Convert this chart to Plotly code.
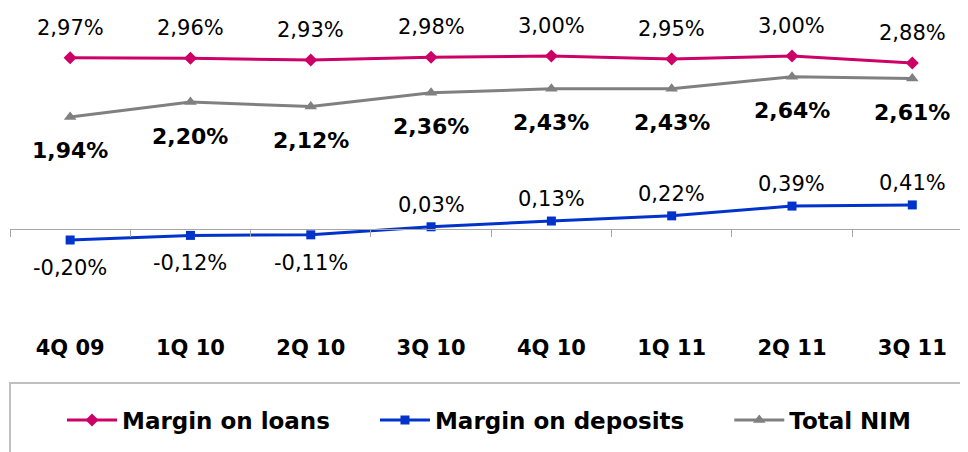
import plotly.graph_objects as go

quarters = ["4Q 09", "1Q 10", "2Q 10", "3Q 10", "4Q 10", "1Q 11", "2Q 11", "3Q 11"]
margin_loans = [2.97, 2.96, 2.93, 2.98, 3.00, 2.95, 3.00, 2.88]
margin_deposits = [-0.20, -0.12, -0.11, 0.03, 0.13, 0.22, 0.39, 0.41]
total_nim = [1.94, 2.20, 2.12, 2.36, 2.43, 2.43, 2.64, 2.61]
series_names = ["Margin on loans", "Margin on deposits", "Total NIM"]

C_LOANS = "#cc0066"
C_DEP = "#0033cc"
C_NIM = "#808080"
PAD = "\u00a0" * 5  # spacing between legend entries

def fmt(v):
    return f"{v:.2f}%".replace(".", ",")

fig = go.Figure()
fig.add_trace(go.Scatter(x=quarters, y=margin_loans, name=series_names[0] + PAD, mode="lines+markers",
                         line=dict(color=C_LOANS, width=3), marker=dict(symbol="diamond", size=10, color=C_LOANS),
                         hoverinfo="skip"))
fig.add_trace(go.Scatter(x=quarters, y=margin_deposits, name=series_names[1] + PAD, mode="lines+markers",
                         line=dict(color=C_DEP, width=3), marker=dict(symbol="square", size=9, color=C_DEP),
                         hoverinfo="skip"))
fig.add_trace(go.Scatter(x=quarters, y=total_nim, name=series_names[2], mode="lines+markers",
                         line=dict(color=C_NIM, width=3), marker=dict(symbol="triangle-up", size=11, color=C_NIM),
                         hoverinfo="skip"))
# invisible trace carrying the zero-level category axis
fig.add_trace(go.Scatter(x=quarters, y=[None] * len(quarters), xaxis="x2", showlegend=False,
                         hoverinfo="skip", mode="markers"))

annotations = []
reg = dict(family="DejaVu Sans", size=21, color="#000000")
bold = dict(family="DejaVu Sans", size=22, color="#000000", weight="bold")
for q, v in zip(quarters, margin_loans):
    annotations.append(dict(x=q, y=v, xref="x", yref="y", text=fmt(v), showarrow=False,
                            font=reg, yshift=30))
for q, v in zip(quarters, total_nim):
    annotations.append(dict(x=q, y=v, xref="x", yref="y", text=fmt(v), showarrow=False,
                            font=bold, yshift=-34))
for q, v in zip(quarters, margin_deposits):
    annotations.append(dict(x=q, y=v, xref="x", yref="y", text=fmt(v), showarrow=False,
                            font=reg, yshift=(22 if v >= 0 else -28)))

PH = 325  # plot-area height in px
ZERO = 220.5  # px from plot top to zero line
xr = [-0.5, 7.463]
fig.update_layout(
    width=960, height=444,
    margin=dict(l=2, r=0, t=0, b=444 - PH),
    plot_bgcolor="white", paper_bgcolor="white",
    showlegend=True,
    legend=dict(orientation="h", x=0.5, xanchor="center", y=(PH - 412) / PH, yanchor="middle",
                font=dict(family="DejaVu Sans", size=23, color="#000000", weight="bold"),
                bgcolor="rgba(0,0,0,0)", itemwidth=50, traceorder="normal"),
    xaxis=dict(type="category", categoryorder="array", categoryarray=quarters, range=xr,
               showline=False, showgrid=False, zeroline=False, ticks="",
               tickfont=dict(family="DejaVu Sans", size=21, color="#000000", weight="bold")),
    xaxis2=dict(type="category", categoryorder="array", categoryarray=quarters, range=xr,
                overlaying="x", anchor="free", position=(PH - ZERO) / PH, side="bottom",
                showline=True, linecolor="#a6a6a6", linewidth=1, showgrid=False, zeroline=False,
                ticks="outside", tickson="boundaries", ticklen=7, tickcolor="#a6a6a6", tickwidth=1,
                showticklabels=False),
    yaxis=dict(range=[-(PH - ZERO) / 57.5, ZERO / 57.5], visible=False, showgrid=False, zeroline=False),
    annotations=annotations,
    shapes=[dict(type="rect", xref="paper", yref="paper", x0=0, x1=(954 - 2) / 958,
                 y0=-0.6, y1=(PH - 375) / PH, line=dict(color="#bfbfbf", width=2),
                 fillcolor="rgba(0,0,0,0)")],
)

fig.write_html("out.html")
